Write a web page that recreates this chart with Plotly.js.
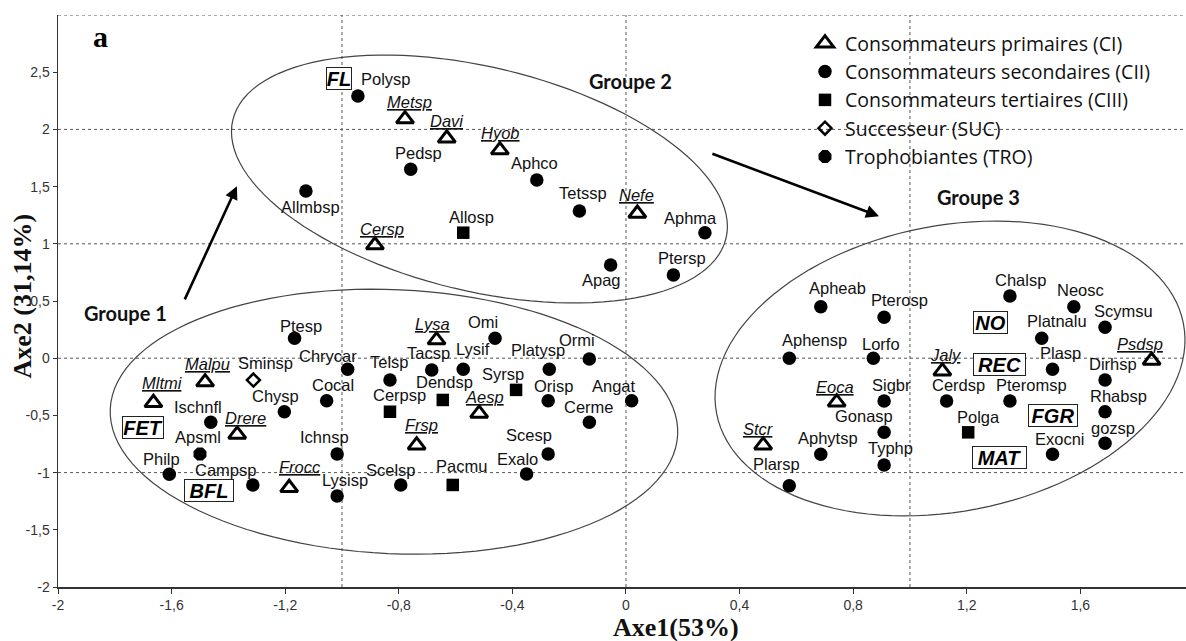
<!DOCTYPE html>
<html><head><meta charset="utf-8">
<script src="https://cdn.plot.ly/plotly-3.0.1.min.js"></script>
<style>html,body{margin:0;padding:0;background:#fff;} #chart{width:1186px;height:641px;}</style>
</head><body><div id="chart"></div>
<script>
// ---------- DATA ----------
// Consommateurs primaires (CI)
const ciNames = ['Metsp','Davi','Hyob','Nefe','Cersp','Lysa','Aesp','Frsp','Malpu','Mltmi','Drere','Frocc','Stcr','Eoca','Jaly','Psdsp'];
const ciX = [-0.778,-0.631,-0.444,0.040,-0.884,-0.667,-0.517,-0.737,-1.482,-1.664,-1.369,-1.186,0.483,0.742,1.114,1.851];
const ciY = [2.090,1.922,1.819,1.265,0.989,0.158,-0.483,-0.760,-0.209,-0.390,-0.666,-1.133,-0.760,-0.384,-0.113,-0.020];
// Consommateurs secondaires (CII)
const ciiNames = ['Polysp','Pedsp','Aphco','Tetssp','Aphma','Ptersp','Apag','Allmbsp','Ptesp','Chrycar','Telsp','Cocal','Chysp','Ischnfl','Philp','Campsp','Ichnsp','Lysisp','Scelsp','Omi','Tacsp','Lysif','Platysp','Orisp','Ormi','Angat','Cerme','Scesp','Exalo','Apheab','Pterosp','Aphensp','Lorfo','Sigbr','Gonasp','Typhp','Aphytsp','Plarsp','Cerdsp','Chalsp','Neosc','Scymsu','Platnalu','Plasp','Pteromsp','Dirhsp','Rhabsp','gozsp','Exocni'];
const ciiX = [-0.944,-0.758,-0.314,-0.164,0.278,0.167,-0.054,-1.127,-1.167,-0.980,-0.831,-1.054,-1.203,-1.462,-1.608,-1.314,-1.017,-1.017,-0.793,-0.461,-0.684,-0.573,-0.270,-0.274,-0.129,0.020,-0.129,-0.274,-0.350,0.686,0.909,0.575,0.871,0.909,0.909,0.909,0.686,0.575,1.129,1.352,1.577,1.687,1.464,1.502,1.352,1.687,1.687,1.687,1.502];
const ciiY = [2.292,1.651,1.558,1.287,1.097,0.727,0.815,1.462,0.174,-0.097,-0.191,-0.372,-0.468,-0.560,-1.015,-1.108,-0.837,-1.205,-1.108,0.174,-0.103,-0.097,-0.097,-0.372,-0.007,-0.372,-0.560,-0.837,-1.012,0.450,0.358,-0.001,-0.001,-0.374,-0.648,-0.934,-0.840,-1.115,-0.374,0.544,0.450,0.270,0.174,-0.097,-0.374,-0.191,-0.468,-0.744,-0.840];
// Consommateurs tertiaires (CIII)
const ciiiNames = ['Allosp','Cerpsp','Dendsp','Syrsp','Pacmu','Polga'];
const ciiiX = [-0.573,-0.831,-0.645,-0.387,-0.610,1.205];
const ciiiY = [1.097,-0.468,-0.365,-0.277,-1.108,-0.648];
// Successeur (SUC)
const sucNames = ['Sminsp'];
const sucX = [-1.312];
const sucY = [-0.191];
// Trophobiantes (TRO)
const troNames = ['Apsml'];
const troX = [-1.500];
const troY = [-0.837];
// Variables (boxed labels)
const varNames = ['FL','FET','BFL','NO','REC','FGR','MAT'];
const varX = [-1.009,-1.701,-1.468,1.282,1.314,1.505,1.317];
const varY = [2.443,-0.610,-1.158,0.310,-0.053,-0.497,-0.866];
// Legend names
const seriesNames = ['Consommateurs primaires (CI)','Consommateurs secondaires (CII)','Consommateurs tertiaires (CIII)','Successeur (SUC)','Trophobiantes (TRO)'];
// Axis ticks
const xTickVals = [-2,-1.6,-1.2,-0.8,-0.4,0,0.4,0.8,1.2,1.6];
const xTickText = ['-2','-1,6','-1,2','-0,8','-0,4','0','0,4','0,8','1,2','1,6'];
const yTickVals = [-2,-1.5,-1,-0.5,0,0.5,1,1.5,2,2.5];
const yTickText = ['-2','-1,5','-1','-0,5','0','0,5','1','1,5','2','2,5'];

// ---------- LABEL OFFSETS (px, dx right, dy down) ----------
const ciOff = [[4.5,-17],[0,-17],[1,-17],[-1,-18],[7,-16],[-4,-16],[5,-16],[5,-20],[2,-18],[9,-20],[8,-16],[11,-21],[-5,-16],[-2,-15],[4,-16],[-12,-16]];
const ciiOff = [[28,-17],[8,-16],[-2,-17],[4,-18],[-14,-15],[9,-17],[-9,15],[4.5,16],[6,-12],[-20,-13],[0,-18],[6,-16],[-9,-16],[-13,-15],[-8,-15],[-27,-15],[-13,-17],[8,-16],[-10,-15],[-12,-16],[-3,-17],[10,-20],[-11,-19],[5,-15],[-12,-19],[-18,-15],[0,-15],[-19,-19],[-9,-15],[17,-19],[15,-17],[25,-18],[8,-14],[7,-16],[-20,-16],[6.5,-17],[7,-16],[-13,-22],[12,-16],[11,-16],[7,-17],[18,-16],[15,-17],[8,-16],[22,-16],[8,-16],[13,-16],[7.5,-15],[7,-15]];
const ciiiOff = [[8,-16],[10,-17],[2,-18],[-13,-16],[9,-19],[10,-15]];
const sucOff = [[12,-17]];
const troOff = [[-2,-17]];
const varBoxW = [24,40,48,33,51,48,53];

// ---------- LAYOUT GEOMETRY ----------
const W = 1186, H = 641, ML = 58, MR = 0, MT = 15, MB = 54;
const XR = [-2, 1.972], YR = [-2, 3];
const pxX = (W-ML-MR)/(XR[1]-XR[0]);
const pxY = (H-MT-MB)/(YR[1]-YR[0]);

const LBL_FONT = {family:'Arial, "Liberation Sans", sans-serif', size:16.5, color:'#111'};
const annotations = [];
function addLabels(names, xs, ys, offs, italicU){
  names.forEach((n,i)=>{
    annotations.push({x:xs[i], y:ys[i], xref:'x', yref:'y', showarrow:false,
      text: italicU ? '<i><u>'+n+'</u></i>' : n,
      xshift: offs[i][0], yshift: -offs[i][1], font: LBL_FONT,
      xanchor:'center', yanchor:'middle'});
  });
}
addLabels(ciNames, ciX, ciY, ciOff, true);
addLabels(ciiNames, ciiX, ciiY, ciiOff, false);
addLabels(ciiiNames, ciiiX, ciiiY, ciiiOff, false);
addLabels(sucNames, sucX, sucY, sucOff, false);
addLabels(troNames, troX, troY, troOff, false);

varNames.forEach((n,i)=>{
  annotations.push({x:varX[i], y:varY[i], xref:'x', yref:'y', showarrow:false,
    text:'<b><i>'+n+'</i></b>', width: varBoxW[i], height: 21, align:'center',
    bordercolor:'#222', borderwidth:1, borderpad:0, bgcolor:'#fff',
    font:{family:'Arial, "Liberation Sans", sans-serif', size:20, color:'#000'}});
});

// group titles
const GFONT = {family:'Lato, "Open Sans", sans-serif', size:20, color:'#111', weight:700};
annotations.push({x:-1.762, y:0.398, xref:'x', yref:'y', text:'<b>Groupe 1</b>', showarrow:false, font:GFONT});
annotations.push({x:0.016, y:2.423, xref:'x', yref:'y', text:'<b>Groupe 2</b>', showarrow:false, font:GFONT});
annotations.push({x:1.241, y:1.409, xref:'x', yref:'y', text:'<b>Groupe 3</b>', showarrow:false, font:GFONT});
// panel letter
annotations.push({x:-1.852, y:2.808, xref:'x', yref:'y', text:'<b>a</b>', showarrow:false,
  font:{family:'"Liberation Serif", "Times New Roman", serif', size:30, color:'#000'}});
// arrows
const ARW = {showarrow:true, arrowhead:2, arrowsize:1, arrowwidth:2.6, arrowcolor:'#000', text:'', axref:'x', ayref:'y', xref:'x', yref:'y', standoff:0, startstandoff:0};
annotations.push(Object.assign({x:-1.370, y:1.503, ax:-1.556, ay:0.501}, ARW));
annotations.push(Object.assign({x:0.891, y:1.241, ax:0.299, ay:1.792}, ARW));
// axis titles
const TFONT = {family:'"Liberation Serif", "Times New Roman", serif', size:26, color:'#111'};
annotations.push({xref:'paper', yref:'paper', x:(676-ML)/(W-ML-MR), y:-(627-(H-MB))/(H-MT-MB), text:'<b>Axe1(53%)</b>', showarrow:false, font:TFONT, xanchor:'center', yanchor:'middle'});
annotations.push({xref:'paper', yref:'paper', x:(22-ML)/(W-ML-MR), y:((H-MB)-296.5)/(H-MT-MB), text:'<b>Axe2 (31,14%)</b>', showarrow:false, textangle:-90, font:TFONT, xanchor:'center', yanchor:'middle'});

// ---------- SHAPES ----------
const shapes = [];
const DOT = {color:'#555', width:1, dash:'dot'};
[-1,0,1].forEach(v=>shapes.push({type:'line', xref:'x', yref:'y', x0:v, x1:v, y0:YR[0], y1:YR[1], line:DOT, layer:'below'}));
[-1,0,1,2,3].forEach(v=>shapes.push({type:'line', xref:'x', yref:'y', x0:XR[0], x1:XR[1], y0:v, y1:v, line:DOT, layer:'below'}));
function ellipsePath(cx, cy, aPx, bPx, thDeg){
  const th = thDeg*Math.PI/180, pts=[];
  for(let k=0;k<=120;k++){
    const t = 2*Math.PI*k/120;
    const dx = aPx*Math.cos(t)*Math.cos(th) - bPx*Math.sin(t)*Math.sin(th);
    const dy = aPx*Math.cos(t)*Math.sin(th) + bPx*Math.sin(t)*Math.cos(th);
    pts.push((cx+dx/pxX).toFixed(4)+','+(cy-dy/pxY).toFixed(4));
  }
  return 'M'+pts.join('L')+'Z';
}
const ELL = {color:'#444', width:1.2};
shapes.push({type:'path', xref:'x', yref:'y', path:ellipsePath(-0.817,-0.555,284,132,2.6), line:ELL, layer:'below'});
shapes.push({type:'path', xref:'x', yref:'y', path:ellipsePath(-0.516,1.566,253.6,112,13.5), line:ELL, layer:'below'});
shapes.push({type:'path', xref:'x', yref:'y', path:ellipsePath(1.141,-0.090,237.7,143,-10.9), line:ELL, layer:'below'});

// ---------- TRACES ----------
const traces = [
  {x:ciX, y:ciY, text:ciNames, name:seriesNames[0], type:'scatter', mode:'markers',
   marker:{symbol:'triangle-up-open', size:15, color:'#000', line:{width:3, color:'#000'}}},
  {x:ciiX, y:ciiY, text:ciiNames, name:seriesNames[1], type:'scatter', mode:'markers',
   marker:{symbol:'circle', size:13.5, color:'#000'}},
  {x:ciiiX, y:ciiiY, text:ciiiNames, name:seriesNames[2], type:'scatter', mode:'markers',
   marker:{symbol:'square', size:12.5, color:'#000'}},
  {x:sucX, y:sucY, text:sucNames, name:seriesNames[3], type:'scatter', mode:'markers',
   marker:{symbol:'diamond-open', size:10, color:'#000', line:{width:2.5, color:'#000'}}},
  {x:troX, y:troY, text:troNames, name:seriesNames[4], type:'scatter', mode:'markers',
   marker:{symbol:'octagon', size:14, color:'#000'}}
];

const layout = {
  width:W, height:H, margin:{l:ML, r:MR, t:MT, b:MB, pad:0},
  paper_bgcolor:'#fff', plot_bgcolor:'#fff',
  showlegend:true,
  legend:{x:(805-ML)/(W-ML-MR), y:1-(24-MT)/(H-MT-MB), xanchor:'left', yanchor:'top',
    font:{family:'"Open Sans", Lato, sans-serif', size:19.5, color:'#111'}, bgcolor:'rgba(0,0,0,0)', borderwidth:0, tracegroupgap:0},
  xaxis:{range:XR, showgrid:false, zeroline:false, showline:true, linecolor:'#333', linewidth:1.5,
    ticks:'outside', ticklen:5, tickcolor:'#333', tickvals:xTickVals, ticktext:xTickText,
    tickfont:{family:'Arial, "Liberation Sans", sans-serif', size:14, color:'#333'}, fixedrange:true},
  yaxis:{range:YR, showgrid:false, zeroline:false, showline:true, linecolor:'#333', linewidth:1.5,
    ticks:'outside', ticklen:4, tickcolor:'#333', tickvals:yTickVals, ticktext:yTickText,
    tickfont:{family:'Arial, "Liberation Sans", sans-serif', size:14, color:'#333'}, fixedrange:true},
  annotations:annotations, shapes:shapes
};
Plotly.newPlot('chart', traces, layout, {displayModeBar:false, staticPlot:true});
</script></body></html>
